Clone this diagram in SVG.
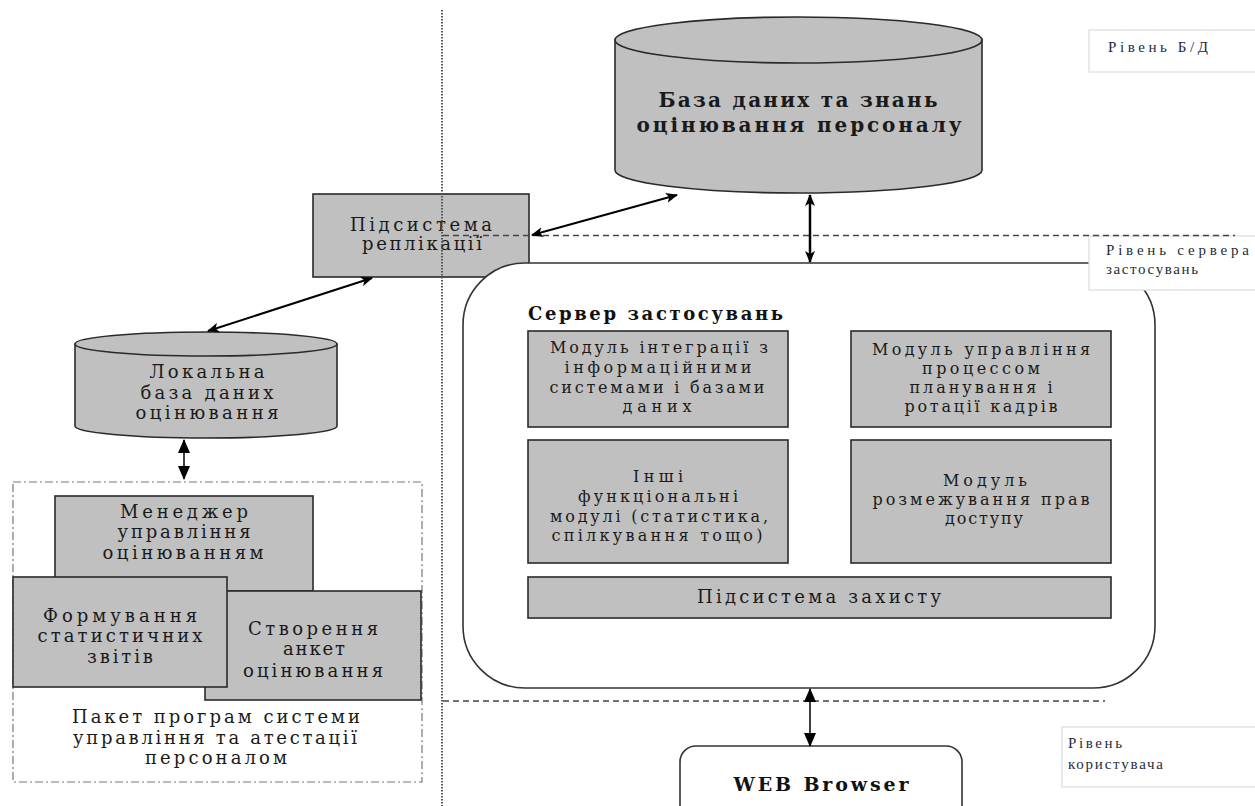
<svg xmlns="http://www.w3.org/2000/svg" width="1255" height="806" viewBox="0 0 1255 806">
<defs>
<marker id="ah" viewBox="0 0 12 10" refX="11" refY="5" markerWidth="12" markerHeight="10" markerUnits="userSpaceOnUse" orient="auto-start-reverse">
<path d="M0,0 L12,5 L0,10 L3,5 z" fill="#000"/>
</marker>
<marker id="ahb" viewBox="0 0 14 12" refX="13" refY="6" markerWidth="14" markerHeight="12" markerUnits="userSpaceOnUse" orient="auto-start-reverse">
<path d="M0,0 L14,6 L0,12 z" fill="#000"/>
</marker>
</defs>
<style>
.box{fill:#c0c0c0;stroke:#2a2a2a;stroke-width:1.6}
.t{font-family:"DejaVu Serif","Liberation Serif",serif;fill:#1a1a1a;text-anchor:middle}
.lbl{font-family:"Liberation Serif","DejaVu Serif",serif;fill:#262b3a;font-size:15px}
.lblbox{fill:#fff;stroke:#dcdcdc;stroke-width:1.2}
.conn{stroke:#000;fill:none}
.sep{stroke:#444;stroke-width:1.3;stroke-dasharray:6,4;fill:none}
</style>
<rect width="1255" height="806" fill="#fff"/>

<g id="mainDB">
<path class="box" d="M615,40 L615,170 A183.5,23 0 0 0 982,170 L982,40 Z"/>
<ellipse class="box" cx="798.5" cy="40" rx="183.5" ry="23"/>
<text class="t" x="798" y="107" font-size="20" font-weight="bold" textLength="279" lengthAdjust="spacing">База даних та знань</text>
<text class="t" x="799" y="132" font-size="20" font-weight="bold" textLength="325" lengthAdjust="spacing">оцінювання персоналу</text>
</g>

<g id="replication">
<rect class="box" x="313" y="194" width="216" height="83"/>
<text class="t" x="421" y="231" font-size="18" textLength="142" lengthAdjust="spacing">Підсистема</text>
<text class="t" x="422" y="250" font-size="18" textLength="120" lengthAdjust="spacing">реплікації</text>
</g>

<g id="localDB">
<path class="box" d="M75,344 L75,426 A131,12 0 0 0 337,426 L337,344 Z"/>
<ellipse class="box" cx="206" cy="344" rx="131" ry="12"/>
<text class="t" x="207" y="378" font-size="18" textLength="115" lengthAdjust="spacing">Локальна</text>
<text class="t" x="207" y="399" font-size="18" textLength="133" lengthAdjust="spacing">база даних</text>
<text class="t" x="207" y="419" font-size="18" textLength="143" lengthAdjust="spacing">оцінювання</text>
</g>

<g id="package">
<rect x="13" y="482" width="409" height="300" fill="none" stroke="#777" stroke-width="1.2" stroke-dasharray="8,3,2,3"/>
<text class="t" x="216" y="723" font-size="18" textLength="288" lengthAdjust="spacing">Пакет програм системи</text>
<text class="t" x="215" y="744" font-size="18" textLength="284" lengthAdjust="spacing">управління та атестації</text>
<text class="t" x="216" y="764" font-size="18" textLength="142" lengthAdjust="spacing">персоналом</text>
</g>
<g id="manager">
<rect class="box" x="55" y="496" width="258" height="95"/>
<text class="t" x="184" y="518" font-size="18" textLength="128" lengthAdjust="spacing">Менеджер</text>
<text class="t" x="184" y="538" font-size="18" textLength="133" lengthAdjust="spacing">управління</text>
<text class="t" x="183" y="559" font-size="18" textLength="161" lengthAdjust="spacing">оцінюванням</text>
</g>
<g id="survey">
<rect class="box" x="205" y="591" width="216" height="109"/>
<text class="t" x="313" y="635" font-size="18" textLength="130" lengthAdjust="spacing">Створення</text>
<text class="t" x="314" y="655" font-size="18" textLength="62" lengthAdjust="spacing">анкет</text>
<text class="t" x="313" y="677" font-size="18" textLength="140" lengthAdjust="spacing">оцінювання</text>
</g>
<g id="reports">
<rect class="box" x="13" y="577" width="214" height="110"/>
<text class="t" x="120" y="622" font-size="18" textLength="154" lengthAdjust="spacing">Формування</text>
<text class="t" x="120" y="642" font-size="18" textLength="165" lengthAdjust="spacing">статистичних</text>
<text class="t" x="120" y="663" font-size="18" textLength="66" lengthAdjust="spacing">звітів</text>
</g>

<g id="server">
<rect x="463" y="263" width="692" height="425" rx="62" ry="62" fill="#fff" stroke="#333" stroke-width="1.6"/>
<text x="528" y="320" font-family="DejaVu Serif, Liberation Serif, serif" font-size="18" font-weight="bold" fill="#111" textLength="255" lengthAdjust="spacing">Сервер застосувань</text>
</g>
<g id="modIntegration">
<rect class="box" x="528" y="331" width="260" height="96"/>
<text class="t" x="659" y="353" font-size="16" textLength="218" lengthAdjust="spacing">Модуль інтеграції з</text>
<text class="t" x="658" y="373" font-size="16" textLength="187" lengthAdjust="spacing">інформаційними</text>
<text class="t" x="657" y="393" font-size="16" textLength="215" lengthAdjust="spacing">системами і базами</text>
<text class="t" x="657" y="412" font-size="16" textLength="69" lengthAdjust="spacing">даних</text>
</g>
<g id="modPlanning">
<rect class="box" x="851" y="331" width="260" height="96"/>
<text class="t" x="981" y="355" font-size="16" textLength="218" lengthAdjust="spacing">Модуль управління</text>
<text class="t" x="981" y="374" font-size="16" textLength="118" lengthAdjust="spacing">процессом</text>
<text class="t" x="981" y="393" font-size="16" textLength="143" lengthAdjust="spacing">планування і</text>
<text class="t" x="981" y="412" font-size="16" textLength="153" lengthAdjust="spacing">ротації кадрів</text>
</g>
<g id="modOther">
<rect class="box" x="528" y="440" width="260" height="123"/>
<text class="t" x="658" y="482" font-size="16" textLength="50" lengthAdjust="spacing">Інші</text>
<text class="t" x="658" y="502" font-size="16" textLength="160" lengthAdjust="spacing">функціональні</text>
<text class="t" x="659" y="522" font-size="16" textLength="218" lengthAdjust="spacing">модулі (статистика,</text>
<text class="t" x="657" y="541" font-size="16" textLength="211" lengthAdjust="spacing">спілкування тощо)</text>
</g>
<g id="modAccess">
<rect class="box" x="851" y="440" width="260" height="123"/>
<text class="t" x="985" y="486" font-size="16" textLength="84" lengthAdjust="spacing">Модуль</text>
<text class="t" x="981" y="505" font-size="16" textLength="217" lengthAdjust="spacing">розмежування прав</text>
<text class="t" x="984" y="524" font-size="16" textLength="78" lengthAdjust="spacing">доступу</text>
</g>
<g id="security">
<rect class="box" x="528" y="577" width="583" height="41"/>
<text class="t" x="819" y="603" font-size="18" textLength="244" lengthAdjust="spacing">Підсистема захисту</text>
</g>

<g id="browser">
<rect x="680" y="746" width="282" height="80" rx="16" ry="16" fill="#fff" stroke="#333" stroke-width="1.6"/>
<text x="821" y="791" text-anchor="middle" font-family="DejaVu Serif, Liberation Serif, serif" font-size="19" font-weight="bold" fill="#111" textLength="175" lengthAdjust="spacing">WEB Browser</text>
</g>

<g id="levelDB">
<rect class="lblbox" x="1089" y="30" width="170" height="42"/>
<text class="lbl" x="1108" y="52" textLength="100" lengthAdjust="spacing">Рівень Б/Д</text>
</g>
<g id="levelServer">
<rect class="lblbox" x="1089" y="236" width="170" height="54"/>
<text class="lbl" x="1106" y="255" textLength="143" lengthAdjust="spacing">Рівень сервера</text>
<text class="lbl" x="1106" y="274" textLength="92" lengthAdjust="spacing">застосувань</text>
</g>
<g id="levelUser">
<rect class="lblbox" x="1062" y="727" width="197" height="60"/>
<text class="lbl" x="1068" y="748" textLength="54" lengthAdjust="spacing">Рівень</text>
<text class="lbl" x="1068" y="769" textLength="95" lengthAdjust="spacing">користувача</text>
</g>

<g id="separators">
<line x1="442" y1="10" x2="442" y2="806" stroke="#555" stroke-width="2" stroke-dasharray="1.5,1.5"/>
<line class="sep" x1="443" y1="235.5" x2="1235" y2="235.5"/>
<line class="sep" x1="443" y1="701" x2="1105" y2="701"/>
</g>

<g id="connectors">
<line class="conn" x1="372" y1="278" x2="208" y2="331" stroke-width="2" marker-start="url(#ah)" marker-end="url(#ah)"/>
<line class="conn" x1="532" y1="235" x2="677" y2="195" stroke-width="2" marker-start="url(#ah)" marker-end="url(#ah)"/>
<line class="conn" x1="810" y1="195" x2="810" y2="262" stroke-width="2.5" marker-start="url(#ah)" marker-end="url(#ah)"/>
<line class="conn" x1="810" y1="689" x2="810" y2="746" stroke-width="1.5" marker-start="url(#ahb)" marker-end="url(#ahb)"/>
<line class="conn" x1="184" y1="440" x2="184" y2="479" stroke-width="1.5" marker-start="url(#ahb)" marker-end="url(#ahb)"/>
</g>
</svg>
